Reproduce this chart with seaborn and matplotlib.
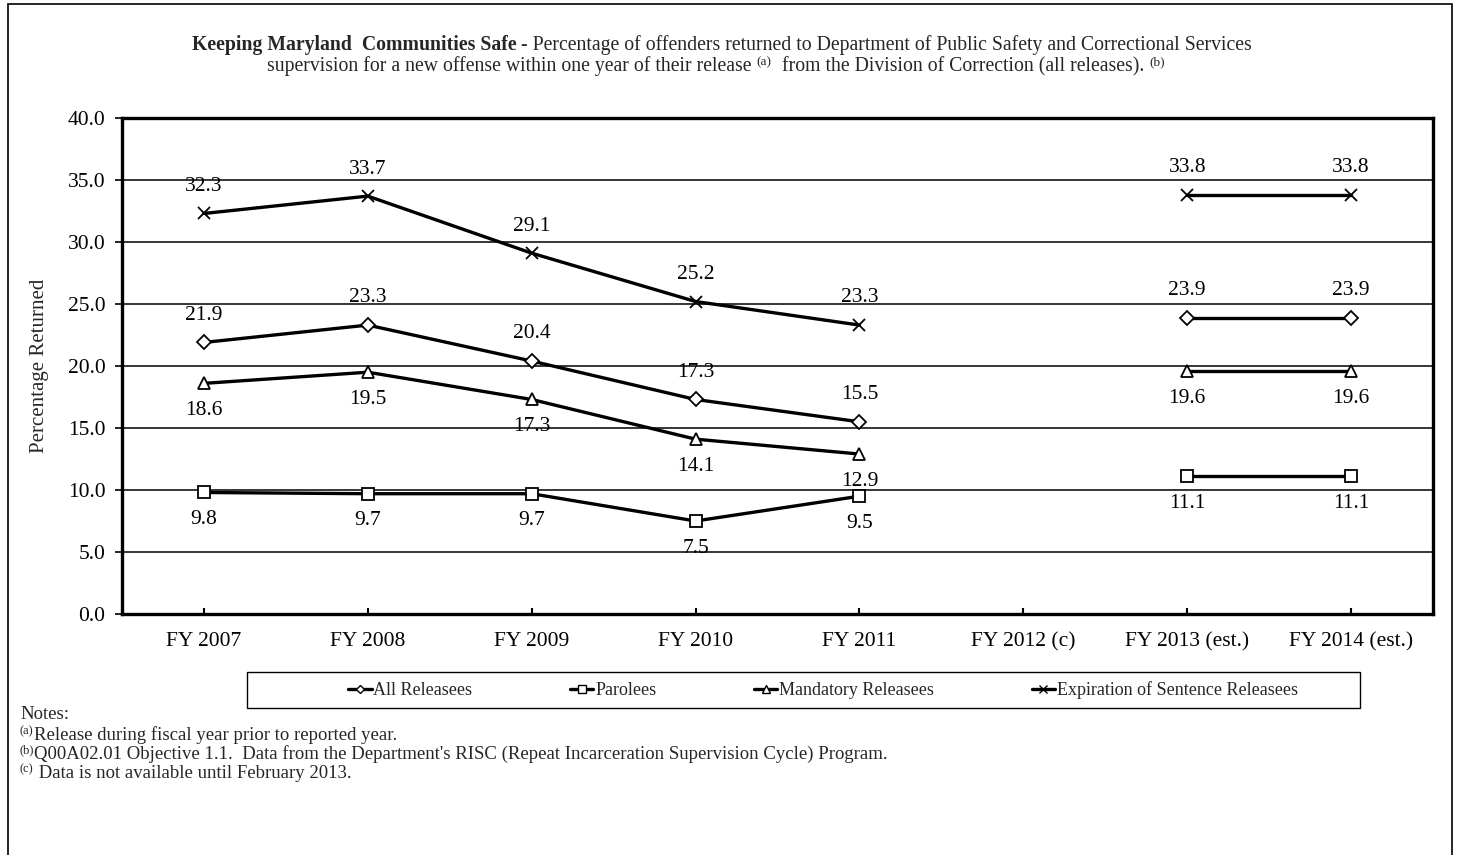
import numpy as np
import pandas as pd
import matplotlib
matplotlib.use("Agg")
import matplotlib.pyplot as plt
from matplotlib.lines import Line2D
from matplotlib.patches import Rectangle
import seaborn as sns

# ---- data -------------------------------------------------------------
years = ["FY 2007", "FY 2008", "FY 2009", "FY 2010", "FY 2011",
         "FY 2012 (c)", "FY 2013 (est.)", "FY 2014 (est.)"]
all_releasees = [21.9, 23.3, 20.4, 17.3, 15.5, np.nan, 23.9, 23.9]
parolees = [9.8, 9.7, 9.7, 7.5, 9.5, np.nan, 11.1, 11.1]
mandatory = [18.6, 19.5, 17.3, 14.1, 12.9, np.nan, 19.6, 19.6]
expiration = [32.3, 33.7, 29.1, 25.2, 23.3, np.nan, 33.8, 33.8]

series_names = ["All Releasees", "Parolees", "Mandatory Releasees",
                "Expiration of Sentence Releasees"]
series_values = [all_releasees, parolees, mandatory, expiration]
label_side = {"All Releasees": 1, "Parolees": -1,
              "Mandatory Releasees": -1, "Expiration of Sentence Releasees": 1}
markers = {"All Releasees": "D", "Parolees": "s",
           "Mandatory Releasees": "^", "Expiration of Sentence Releasees": "x"}
msizes = {"All Releasees": 7, "Parolees": 9,
          "Mandatory Releasees": 9, "Expiration of Sentence Releasees": 9}

# long-form table; the missing FY 2012 splits each series into two runs
rows = []
for name, vals in zip(series_names, series_values):
    for i, v in enumerate(vals):
        if np.isnan(v):
            continue
        rows.append({"series": name, "pos": i, "value": v,
                     "segment": 0 if i < 5 else 1})
df = pd.DataFrame(rows)

# ---- style ------------------------------------------------------------
sns.set_theme(style="white")
plt.rcParams["font.family"] = ["Liberation Serif", "DejaVu Serif"]

W, H = 1458, 855
fig = plt.figure(figsize=(W / 100, H / 100), dpi=100)
ax = fig.add_axes([122 / W, 1 - 614 / H, (1433 - 122) / W, (614 - 118) / H])

# outer frame around the whole figure
fig.patches.append(Rectangle((8 / W, -0.05), (1452 - 8) / W, 1.05 - 4 / H,
                             transform=fig.transFigure, fill=False,
                             edgecolor="black", linewidth=1.2))

ax.set_ylim(0, 40)
ax.set_xlim(-0.5, len(years) - 0.5)
ax.yaxis.grid(True, color="black", linewidth=1.1)
ax.set_axisbelow(True)

for name in series_names:
    sub = df[df["series"] == name]
    sns.lineplot(data=sub, x="pos", y="value", units="segment", estimator=None,
                 color="black", linewidth=2.4, marker=markers[name],
                 markersize=msizes[name], markerfacecolor="white",
                 markeredgecolor="black", markeredgewidth=1.3,
                 legend=False, ax=ax, zorder=3)
    for _, r in sub.iterrows():
        off = 19.5 * label_side[name]
        ax.annotate(f"{r['value']:.1f}", (r["pos"], r["value"]),
                    xytext=(0, off), textcoords="offset points",
                    ha="center", va="center", fontsize=15.5, color="black",
                    zorder=4)

ax.set_xticks(range(len(years)))
ax.set_xticklabels(years, fontsize=15.5)
ax.set_yticks(np.arange(0, 40.1, 5))
ax.set_yticklabels([f"{v:.1f}" for v in np.arange(0, 40.1, 5)], fontsize=15.5)
ax.tick_params(axis="x", direction="in", length=4, width=1.5, colors="black",
               pad=13, bottom=True)
ax.tick_params(axis="y", direction="out", length=5, width=1.2, colors="black",
               pad=7, left=True)
ax.set_xlabel("")
ax.set_ylabel("Percentage Returned", fontsize=15)
ax.yaxis.set_label_coords(-0.056, 0.5)
for side in ["left", "top", "right", "bottom"]:
    ax.spines[side].set_visible(True)
    ax.spines[side].set_color("black")
    ax.spines[side].set_linewidth(2.4)

# ---- legend -----------------------------------------------------------
fig.patches.append(Rectangle((247 / W, 1 - 708 / H), (1360 - 247) / W, 36 / H,
                             transform=fig.transFigure, fill=False,
                             edgecolor="black", linewidth=1.0))
handles = [Line2D([0], [0], color="black", linewidth=2.4, marker=markers[n],
                  markersize=msizes[n] * 0.6, markerfacecolor="white",
                  markeredgecolor="black", markeredgewidth=1.0, label=n)
           for n in series_names]
leg = fig.legend(handles=handles, loc="center", ncol=4,
                 bbox_to_anchor=(823 / W, 1 - 690 / H),
                 fontsize=13, frameon=False, handlelength=1.3,
                 handletextpad=0.1, columnspacing=5.4, borderpad=0.3)


# ---- text runs (title and notes with superscripts) --------------------
def draw_runs(y, runs, x=None, center=None):
    renderer = fig.canvas.get_renderer()
    texts = []
    for s, props, dy in runs:
        t = fig.text(0, y + dy, s, va="baseline", ha="left", **props)
        texts.append(t)
    widths = [t.get_window_extent(renderer).width for t in texts]
    total = sum(widths)
    start = (center - total / 2) if center is not None else x
    cur = start
    for t, w in zip(texts, widths):
        t.set_x(cur / W)
        cur += w


fig.canvas.draw()
tsup = {"fontsize": 9.5}
treg = {"fontsize": 14.2}
tbold = {"fontsize": 14.2, "fontweight": "bold"}
nsup = {"fontsize": 9}
nreg = {"fontsize": 13.5}
up = 6 / H
draw_runs(1 - 50 / H, [
    ("Keeping Maryland  Communities Safe", tbold, 0),
    (" - Percentage of offenders returned to Department of Public Safety and "
     "Correctional Services", treg, 0)], center=722)
draw_runs(1 - 71 / H, [
    ("supervision for a new offense within one year of their release ", treg, 0),
    ("(a)", tsup, up),
    ("  from the Division of Correction (all releases). ", treg, 0),
    ("(b)", tsup, up)], center=716)

draw_runs(1 - 719 / H, [("Notes:", nreg, 0)], x=20)
draw_runs(1 - 740 / H, [("(a)", nsup, up),
                        ("Release during fiscal year prior to reported year.", nreg, 0)], x=20)
draw_runs(1 - 759 / H, [("(b)", nsup, up),
                        ("Q00A02.01 Objective 1.1.  Data from the Department's RISC "
                         "(Repeat Incarceration Supervision Cycle) Program.", nreg, 0)], x=20)
draw_runs(1 - 778 / H, [("(c)", nsup, up),
                        (" Data is not available until February 2013.", nreg, 0)], x=20)

fig.savefig("out.png", dpi=100)
